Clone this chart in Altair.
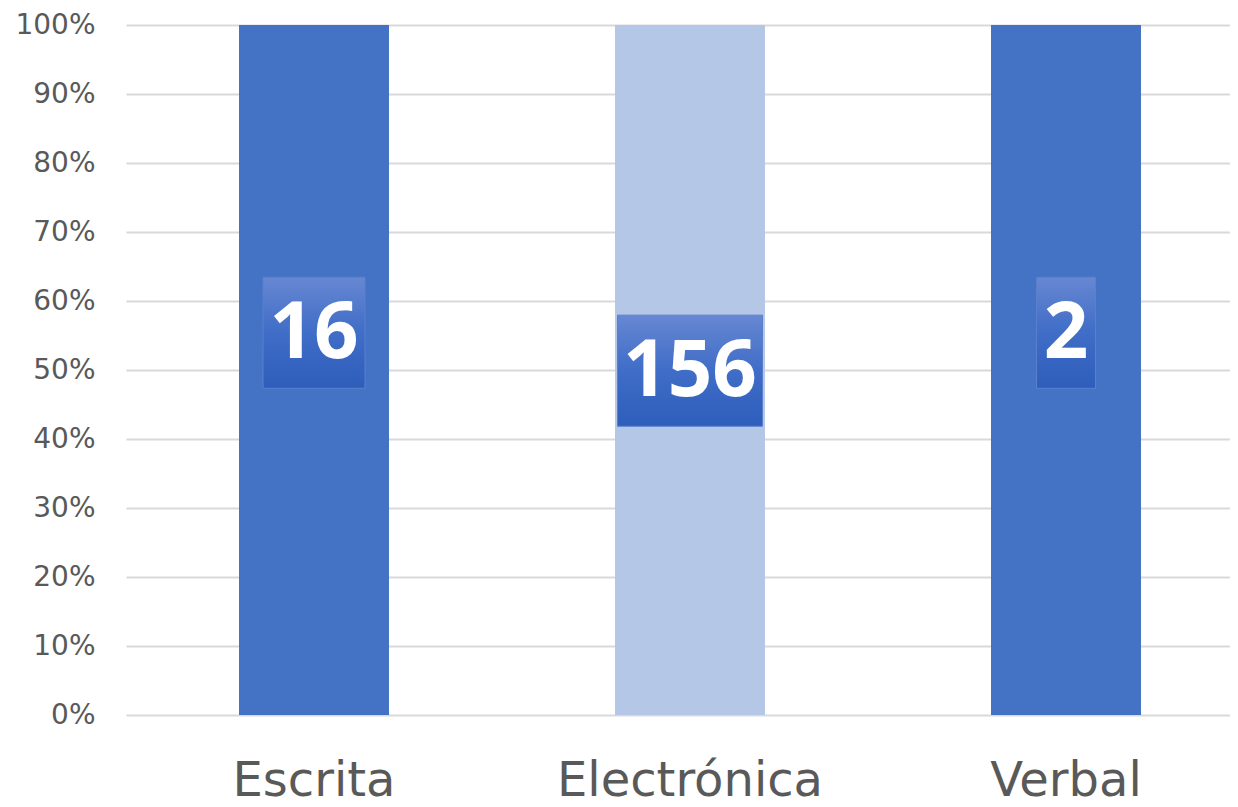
import altair as alt
import pandas as pd

categories = ["Escrita", "Electrónica", "Verbal"]
counts = [16, 156, 2]
shares = [1.0, 1.0, 1.0]
label_pos = [0.554, 0.499, 0.554]
bar_colors = ["#4472c4", "#b4c7e7", "#4472c4"]

df = pd.DataFrame({
    "cat": categories,
    "count": counts,
    "share": shares,
    "lpos": label_pos,
    "color": bar_colors,
})

AX_FONT = "DejaVu Sans"
NUM_FONT = "Open Sans"
x_enc = alt.X(
    "cat:N",
    sort=categories,
    scale=alt.Scale(range=[7, 1135], paddingInner=0, paddingOuter=0),
    axis=alt.Axis(
        title=None, domain=False, ticks=False, labelAngle=0, labelLimit=0,
        labelFont=AX_FONT, labelFontSize=48, labelColor="#595959", labelPadding=42,
    ),
)

y_scale = alt.Scale(domain=[0, 1])

bars = alt.Chart(df).mark_bar(size=150).encode(
    x=x_enc,
    y=alt.Y(
        "share:Q", scale=y_scale,
        axis=alt.Axis(
            title=None, format=".0%", values=[i / 10 for i in range(11)],
            domain=False, ticks=False, labelFont=AX_FONT, labelFontSize=28,
            labelColor="#595959", labelPadding=24,
            grid=True, gridColor="#d9d9d9", gridWidth=2,
        ),
    ),
    y2=alt.datum(0),
    color=alt.Color("color:N", scale=None),
)

boxes = alt.Chart(df).transform_calculate(
    y0="datum.lpos - 0.0805",
    y1="datum.lpos + 0.0805",
    bw="16 + 43 * length(toString(datum.count))",
).mark_bar(
    fill=alt.Gradient(
        gradient="linear",
        stops=[alt.GradientStop(color="#6787d2", offset=0),
               alt.GradientStop(color="#3f6dc7", offset=0.5),
               alt.GradientStop(color="#2e5dbb", offset=1)],
        x1=0, x2=0, y1=0, y2=1,
    ),
    stroke="#5a80cc", strokeWidth=1,
).encode(
    x=alt.X("cat:N", sort=categories),
    y=alt.Y("y0:Q", scale=y_scale),
    y2="y1:Q",
    size=alt.Size("bw:Q", scale=None),
)

texts = alt.Chart(df).mark_text(
    font=NUM_FONT, fontSize=78, fontWeight="bold", color="white", baseline="middle", dy=2,
).encode(
    x=alt.X("cat:N", sort=categories),
    y=alt.Y("lpos:Q", scale=y_scale),
    text="count:N",
)

chart = alt.layer(bars, boxes, texts).properties(
    width=1111, height=690,
    autosize=alt.AutoSizeParams(type="none"),
    padding={"left": 111, "top": 17, "right": 0, "bottom": 92},
).configure_view(stroke=None)

chart.save("out.html", embed_options={"renderer": "svg", "actions": False})
